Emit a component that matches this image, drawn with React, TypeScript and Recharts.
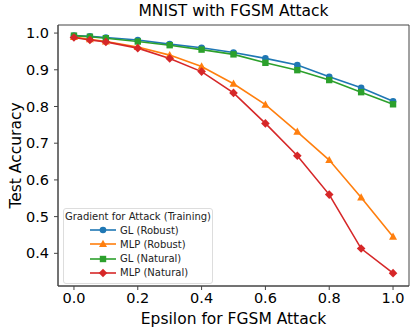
import React from 'react';
import { LineChart, Line, XAxis, YAxis, ReferenceArea } from 'recharts';

// epsilon values used for the FGSM attack
const epsilons = [0, 0.05, 0.1, 0.2, 0.3, 0.4, 0.5, 0.6, 0.7, 0.8, 0.9, 1.0];

// test accuracy per series
const glRobust = [0.993, 0.991, 0.988, 0.981, 0.970, 0.960, 0.947, 0.931, 0.913, 0.881, 0.851, 0.814];
const mlpRobust = [0.989, 0.983, 0.977, 0.962, 0.940, 0.909, 0.862, 0.805, 0.731, 0.654, 0.552, 0.445];
const glNatural = [0.993, 0.990, 0.986, 0.977, 0.967, 0.955, 0.942, 0.919, 0.899, 0.872, 0.839, 0.806];
const mlpNatural = [0.988, 0.981, 0.976, 0.959, 0.931, 0.895, 0.837, 0.754, 0.666, 0.560, 0.413, 0.346];

const xTicks = [0, 0.2, 0.4, 0.6, 0.8, 1.0];
const yTicks = [0.4, 0.5, 0.6, 0.7, 0.8, 0.9, 1.0];

const seriesNames = ['GL (Robust)', 'MLP (Robust)', 'GL (Natural)', 'MLP (Natural)'];

const X_DOMAIN: [number, number] = [-0.05, 1.05];
const Y_DOMAIN: [number, number] = [0.311, 1.022];

const BLUE = '#1f77b4';
const ORANGE = '#ff7f0e';
const GREEN = '#2ca02c';
const RED = '#d62728';
const SPINE = '#444';
const FONT = '"DejaVu Sans", sans-serif';

const data = epsilons.map((eps, i) => ({
  eps,
  glRobust: glRobust[i],
  mlpRobust: mlpRobust[i],
  glNatural: glNatural[i],
  mlpNatural: mlpNatural[i],
}));

type Shape = 'circle' | 'triangle' | 'square' | 'diamond';

function marker(shape: Shape, cx: number, cy: number, color: string, key?: string) {
  if (shape === 'circle') return <circle key={key} cx={cx} cy={cy} r={3.3} fill={color} />;
  if (shape === 'square') return <rect key={key} x={cx - 3.2} y={cy - 3.2} width={6.4} height={6.4} fill={color} />;
  if (shape === 'triangle')
    return <polygon key={key} points={`${cx},${cy - 4.2} ${cx + 4},${cy + 3} ${cx - 4},${cy + 3}`} fill={color} />;
  return <polygon key={key} points={`${cx},${cy - 4.3} ${cx + 4.3},${cy} ${cx},${cy + 4.3} ${cx - 4.3},${cy}`} fill={color} />;
}

const dotFor = (shape: Shape, color: string) => (props: any) => {
  const { cx, cy, index } = props;
  if (cx == null || cy == null) return <g key={index} />;
  return marker(shape, cx, cy, color, `m-${index}`);
};

const legendItems: { name: string; color: string; shape: Shape }[] = [
  { name: seriesNames[0], color: BLUE, shape: 'circle' },
  { name: seriesNames[1], color: ORANGE, shape: 'triangle' },
  { name: seriesNames[2], color: GREEN, shape: 'square' },
  { name: seriesNames[3], color: RED, shape: 'diamond' },
];

const tickStyle = { fontSize: 14.5, fill: '#000', fontFamily: FONT };

export default function App() {
  return (
    <div style={{ position: 'absolute', left: 0, top: 0, width: 416, height: 335, background: '#fff', fontFamily: FONT }}>
      <div style={{ position: 'absolute', left: 58, width: 351, top: 2, textAlign: 'center', fontSize: 15.5, color: '#000' }}>
        MNIST with FGSM Attack
      </div>
      <LineChart width={416} height={335} data={data} margin={{ top: 25, right: 7, left: 0, bottom: 0 }}>
        <XAxis
          dataKey="eps"
          type="number"
          domain={X_DOMAIN}
          ticks={xTicks}
          tickFormatter={(v: number) => v.toFixed(1)}
          height={49}
          tickSize={4}
          tickMargin={3}
          stroke={SPINE}
          tick={tickStyle}
          allowDataOverflow
          label={{ value: 'Epsilon for FGSM Attack', position: 'center', dy: 8, fontSize: 15.5, fill: '#000', fontFamily: FONT }}
        />
        <YAxis
          type="number"
          domain={Y_DOMAIN}
          ticks={yTicks}
          tickFormatter={(v: number) => v.toFixed(1)}
          width={58}
          tickSize={4}
          tickMargin={5}
          stroke={SPINE}
          tick={tickStyle}
          allowDataOverflow
          label={{ value: 'Test Accuracy', angle: -90, position: 'center', dx: -14, fontSize: 15.5, fill: '#000', fontFamily: FONT }}
        />
        {/* full axes frame (top and right spines) */}
        <ReferenceArea
          x1={X_DOMAIN[0]}
          x2={X_DOMAIN[1]}
          y1={Y_DOMAIN[0]}
          y2={Y_DOMAIN[1]}
          fill="none"
          fillOpacity={0}
          stroke={SPINE}
          strokeWidth={1}
          ifOverflow="extendDomain"
        />
        <Line dataKey="glRobust" name={seriesNames[0]} stroke={BLUE} strokeWidth={1.6} dot={dotFor('circle', BLUE)} isAnimationActive={false} />
        <Line dataKey="mlpRobust" name={seriesNames[1]} stroke={ORANGE} strokeWidth={1.6} dot={dotFor('triangle', ORANGE)} isAnimationActive={false} />
        <Line dataKey="glNatural" name={seriesNames[2]} stroke={GREEN} strokeWidth={1.6} dot={dotFor('square', GREEN)} isAnimationActive={false} />
        <Line dataKey="mlpNatural" name={seriesNames[3]} stroke={RED} strokeWidth={1.6} dot={dotFor('diamond', RED)} isAnimationActive={false} />
      </LineChart>
      {/* legend box, lower left like matplotlib's loc='lower left' */}
      <div
        style={{
          position: 'absolute',
          left: 63,
          top: 208,
          width: 150,
          height: 76,
          border: '1px solid #ddd',
          borderRadius: 3,
          background: 'rgba(255,255,255,0.8)',
          fontSize: 10,
          color: '#222',
          boxSizing: 'border-box',
        }}
      >
        <div style={{ position: 'absolute', left: 0, right: 0, top: 2, textAlign: 'center' }}>Gradient for Attack (Training)</div>
        {legendItems.map((it, i) => (
          <div key={it.name} style={{ position: 'absolute', left: 26, top: 15 + i * 14.3, height: 12, display: 'flex', alignItems: 'center' }}>
            <svg width={26} height={12} style={{ marginRight: 4 }}>
              <line x1={0} y1={6} x2={26} y2={6} stroke={it.color} strokeWidth={1.6} />
              {marker(it.shape, 13, 6, it.color)}
            </svg>
            <span>{it.name}</span>
          </div>
        ))}
      </div>
    </div>
  );
}
